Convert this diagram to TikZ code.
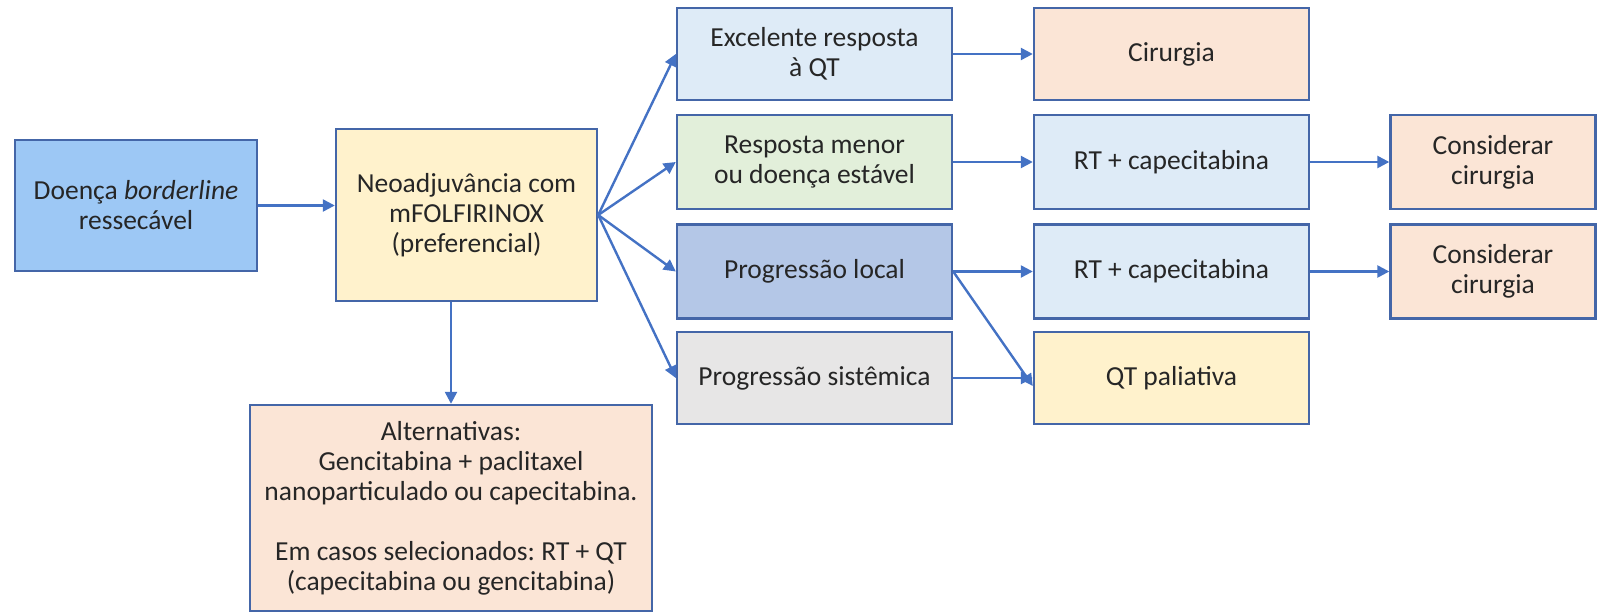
\documentclass[tikz,border=0pt]{standalone}
\usepackage{fontspec}
\setmainfont{Carlito}
\frenchspacing
\usetikzlibrary{arrows.meta}
\definecolor{edge}{HTML}{4466A8}
\definecolor{arr}{HTML}{4472C4}
\definecolor{cA}{HTML}{9DC8F5}
\definecolor{cYel}{HTML}{FFF2CC}
\definecolor{cLB}{HTML}{DEEBF7}
\definecolor{cGr}{HTML}{E2EFDA}
\definecolor{cMB}{HTML}{B4C7E7}
\definecolor{cGy}{HTML}{E7E6E6}
\definecolor{cPe}{HTML}{FBE5D6}
\tikzset{
  box/.style={draw=edge, line width=2.4pt, inner sep=0pt, align=center,
    font=\fontsize{27.5}{30}\selectfont, text=black!85},
  conn/.style={draw=arr, line width=2.4pt, -{Triangle[length=12pt,width=12pt]}}
}
\begin{document}
\begin{tikzpicture}[x=1pt,y=-1pt]
\useasboundingbox (0,0) rectangle (1597,613);
\node[box, fill=cA, minimum width=242pt, minimum height=131pt] (A) at (136,205.5) {Doença \textit{borderline}\\ressecável};
\node[box, fill=cYel, minimum width=261pt, minimum height=172pt] (B) at (466.5,215) {Neoadjuvância com\\mFOLFIRINOX\\(preferencial)};
\node[box, fill=cPe, minimum width=402pt, minimum height=206pt] (Alt) at (451,508) {Alternativas:\\Gencitabina + paclitaxel\\nanoparticulado ou capecitabina.\\[30pt]Em casos selecionados: RT + QT\\(capecitabina ou gencitabina)};
\node[box, fill=cLB, minimum width=275pt, minimum height=92pt] (E) at (814.5,54) {Excelente resposta\\à QT};
\node[box, fill=cGr, minimum width=275pt, minimum height=94pt] (R) at (814.5,162) {Resposta menor\\ou doença estável};
\node[box, fill=cMB, minimum width=275pt, minimum height=94pt] (PL) at (814.5,271.5) {Progressão local};
\node[box, fill=cGy, minimum width=275pt, minimum height=92pt] (PS) at (814.5,378) {Progressão sistêmica};
\node[box, fill=cPe, minimum width=275pt, minimum height=92pt] (C) at (1171.5,54) {Cirurgia};
\node[box, fill=cLB, minimum width=275pt, minimum height=94pt] (RT1) at (1171.5,162) {RT + capecitabina};
\node[box, fill=cLB, minimum width=275pt, minimum height=94pt] (RT2) at (1171.5,271.5) {RT + capecitabina};
\node[box, fill=cYel, minimum width=275pt, minimum height=92pt] (QP) at (1171.5,378) {QT paliativa};
\node[box, fill=cPe, minimum width=205pt, minimum height=94pt] (K1) at (1493,162) {Considerar\\cirurgia};
\node[box, fill=cPe, minimum width=205pt, minimum height=94pt] (K2) at (1493,271.5) {Considerar\\cirurgia};
\coordinate (QPin) at ([yshift=-8pt]QP.west);
\draw[conn] (A) -- (B.west |- A.east);
\draw[conn] (B.east) -- (E.west);
\draw[conn] (B.east) -- (R.west);
\draw[conn] (B.east) -- (PL.west);
\draw[conn] (B.east) -- (PS.west);
\draw[conn] (B.south -| Alt.north) -- (Alt.north);
\draw[conn] (E) -- (C);
\draw[conn] (R) -- (RT1);
\draw[conn] (RT1) -- (K1);
\draw[conn] (PL) -- (RT2);
\draw[conn] (RT2) -- (K2);
\draw[conn] (PL.east) -- (QPin);
\draw[conn] (PS) -- (QP);
\end{tikzpicture}
\end{document}
